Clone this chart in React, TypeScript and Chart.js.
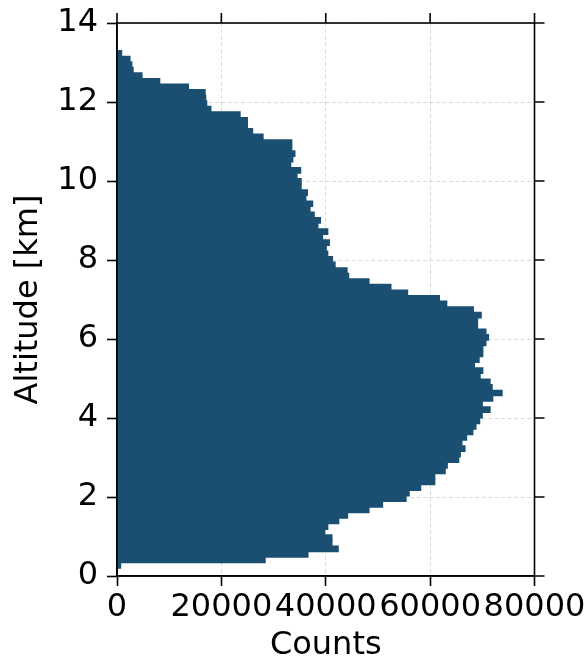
import React, { useEffect, useRef } from 'react';
import { Chart, registerables } from 'chart.js';

Chart.register(...registerables);

// Histogram bin range (km) and counts per bin, bottom to top
const ALT_MIN_KM = 0.195;
const ALT_MAX_KM = 13.3;
const COUNTS = [
  800, 28500, 36700, 42500, 41300, 41300, 39900, 40500, 42600, 44300,
  48400, 51000, 55500, 56100, 58300, 61000, 61000, 63000, 63400, 65600,
  65900, 66800, 66200, 67100, 68300, 68900, 69600, 70100, 71600, 70100,
  72100, 73900, 72000, 71600, 69700, 70200, 68600, 69500, 70200, 70200,
  70800, 71300, 70800, 69200, 69200, 69900, 68400, 63300, 61900, 55800,
  52600, 48400, 44500, 44200, 41900, 41400, 40500, 40200, 40800, 39500,
  40500, 38600, 39100, 37900, 37100, 37600, 36300, 36600, 35400, 35400,
  34600, 35300, 33400, 33800, 34200, 33600, 33600, 28100, 26100, 25100,
  25100, 23700, 18100, 17300, 17100, 17000, 13800, 8300, 4900, 3200,
  2950, 2600, 1000,
];
const X_TICKS = [0, 20000, 40000, 60000, 80000];
const Y_TICKS = [0, 2, 4, 6, 8, 10, 12, 14];
const X_LABEL = 'Counts';
const Y_LABEL = 'Altitude [km]';

const BAR_COLOR = '#1b4f72';
const FONT = { family: '"DejaVu Sans", sans-serif', size: 32 };
const TITLE_FONT = { family: '"DejaVu Sans", sans-serif', size: 32, lineHeight: 1 };
const GRID_COLOR = 'rgba(170,170,170,0.55)';

const framePlugin = {
  id: 'frame',
  afterDraw(chart: any) {
    const { ctx, chartArea: a, scales } = chart;
    ctx.save();
    ctx.strokeStyle = '#000';
    ctx.lineWidth = 1.6;
    ctx.strokeRect(a.left, a.top, a.right - a.left, a.bottom - a.top);
    ctx.beginPath();
    scales.x.ticks.forEach((t: any) => {
      const x = scales.x.getPixelForValue(t.value);
      ctx.moveTo(x, a.top);
      ctx.lineTo(x, a.top - 10);
    });
    scales.y.ticks.forEach((t: any) => {
      const y = scales.y.getPixelForValue(t.value);
      ctx.moveTo(a.right, y);
      ctx.lineTo(a.right + 10, y);
    });
    ctx.stroke();
    ctx.restore();
  },
};

export default function App() {
  const ref = useRef<HTMLCanvasElement>(null);

  useEffect(() => {
    if (!ref.current) return;
    const binWidth = (ALT_MAX_KM - ALT_MIN_KM) / COUNTS.length;
    const points = COUNTS.map((c, i) => ({ x: c, y: ALT_MIN_KM + binWidth * (i + 0.5) }));

    const chart = new Chart(ref.current, {
      type: 'bar',
      data: {
        datasets: [
          {
            data: points as any,
            backgroundColor: BAR_COLOR,
            borderWidth: 0,
            barPercentage: 1.2,
            categoryPercentage: 1,
          },
        ],
      },
      options: {
        indexAxis: 'y',
        animation: false,
        responsive: false,
        devicePixelRatio: 1,
        layout: { padding: { top: 23, right: 53.5, left: 0, bottom: 0 } },
        plugins: { legend: { display: false }, tooltip: { enabled: false } },
        scales: {
          x: {
            type: 'linear',
            position: 'bottom',
            min: 0,
            max: 80000,
            z: 1,
            afterBuildTicks: (s: any) => {
              s.ticks = X_TICKS.map((v) => ({ value: v }));
            },
            afterFit: (s: any) => {
              s.height = 86;
              s.paddingLeft = 0;
              s.paddingRight = 0;
              s.paddingTop = 0;
              s.paddingBottom = 0;
            },
            ticks: {
              callback: (v: any) => String(v),
              font: FONT,
              color: '#000',
              padding: 2,
              maxRotation: 0,
              autoSkip: false,
            },
            grid: {
              color: GRID_COLOR,
              lineWidth: 0.8,
              tickColor: '#000',
              tickWidth: 1.6,
              tickLength: 10,
              offset: false,
            },
            border: { display: true, color: '#000', width: 1.6, dash: [4, 2.5] },
            title: {
              display: true,
              text: X_LABEL,
              font: TITLE_FONT,
              color: '#000',
              padding: { top: 0, bottom: 0 },
            },
          },
          y: {
            type: 'linear',
            position: 'left',
            min: 0,
            max: 14,
            offset: false,
            reverse: false,
            z: 1,
            afterBuildTicks: (s: any) => {
              s.ticks = Y_TICKS.map((v) => ({ value: v }));
            },
            afterFit: (s: any) => {
              s.width = 117;
              s.paddingLeft = 0;
              s.paddingRight = 0;
              s.paddingTop = 0;
              s.paddingBottom = 0;
            },
            ticks: {
              callback: (v: any) => String(v),
              font: FONT,
              color: '#000',
              padding: 9,
              autoSkip: false,
            },
            grid: {
              color: GRID_COLOR,
              lineWidth: 0.8,
              tickColor: '#000',
              tickWidth: 1.6,
              tickLength: 10,
              offset: false,
            },
            border: { display: true, color: '#000', width: 1.6, dash: [4, 2.5] },
            title: {
              display: true,
              text: Y_LABEL,
              font: TITLE_FONT,
              color: '#000',
              padding: { top: 13, bottom: 0 },
            },
          },
        },
      },
      plugins: [framePlugin],
    } as any);

    return () => chart.destroy();
  }, []);

  return (
    <div style={{ position: 'absolute', left: 0, top: 0, width: 588, height: 662, background: '#fff' }}>
      <canvas ref={ref} width={588} height={662} style={{ width: 588, height: 662, display: 'block' }} />
    </div>
  );
}
